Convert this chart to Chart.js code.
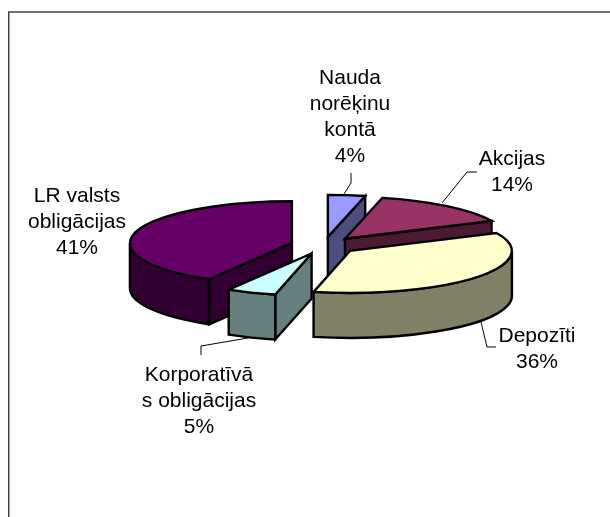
<!DOCTYPE html>
<html><head><meta charset="utf-8">
<style>html,body{margin:0;padding:0;background:#fff}canvas{display:block}</style>
<script src="https://cdn.jsdelivr.net/npm/chart.js@4"></script>
</head><body>
<canvas id="c" width="610" height="517"></canvas>
<script>
const categories = ['Nauda norēķinu kontā','Akcijas','Depozīti','Korporatīvā s obligācijas','LR valsts obligācijas'];
const shares = [3.7, 14.3, 35.6, 4.95, 41.45];
const topColors = ['#9999FF','#993366','#FFFFCC','#CCFFFF','#660066'];
const sideColors = ['#4D4D80','#4D1A33','#808066','#668080','#330033'];
const labelLines = [['Nauda','norēķinu','kontā'],['Akcijas'],['Depozīti'],['Korporatīvā','s obligācijas'],['LR valsts','obligācijas']];
const labelAnchors = [[350,78],[512,159],[537,336],[199,375],[77,196]];
const leaders = [
  [[351,173],[351,183],[344,194]],
  [[477,172],[467,172],[442,203]],
  [[481,322],[487,347],[496,347]],
  [[248,338],[201,346],[201,355]],
  []
];
const drawOrder = [0,1,4,3,2];
const tilt = 0.2593, depth = 45, explode = 0.2055, lineH = 26;

const pie3d = {
  id:'pie3d',
  beforeDraw(chart){
    const c = chart.ctx;
    c.save(); c.strokeStyle='#404040'; c.lineWidth=1.5;
    c.beginPath(); c.moveTo(8.75,517); c.lineTo(8.75,12); c.lineTo(610,12); c.stroke(); c.restore();
  },
  beforeDatasetsDraw(chart){
    const c = chart.ctx, arcs = chart.getDatasetMeta(0).data;
    const PI = Math.PI;
    c.save();
    c.lineJoin='miter'; c.miterLimit=4; c.strokeStyle='#000'; c.lineWidth=2.4;
    for (const i of drawOrder){
      const el = arcs[i], R = el.outerRadius, a0 = el.startAngle, a1 = el.endAngle, mid=(a0+a1)/2;
      const ax = el.x + Math.cos(mid)*R*explode, ay = el.y + Math.sin(mid)*R*explode*tilt;
      const P = (a,d=0)=>[ax+R*Math.cos(a), ay+R*tilt*Math.sin(a)+d];
      c.fillStyle = sideColors[i];
      const wall = a=>{
        const p=P(a);
        c.beginPath(); c.moveTo(ax,ay); c.lineTo(p[0],p[1]); c.lineTo(p[0],p[1]+depth); c.lineTo(ax,ay+depth); c.closePath();
        c.fill(); c.stroke();
      };
      if (Math.sin(a0-PI/2) > 0.02) wall(a0);
      if (Math.sin(a1+PI/2) > 0.02) wall(a1);
      const from = Math.max(a0,0), to = Math.min(a1,PI);
      if (to>from){
        c.beginPath();
        c.ellipse(ax,ay,R,R*tilt,0,from,to,false);
        c.ellipse(ax,ay+depth,R,R*tilt,0,to,from,true);
        c.closePath(); c.fill(); c.stroke();
      }
      c.save();
      c.translate(ax,ay); c.scale(1,tilt); c.translate(-el.x,-el.y);
      el.draw(c);
      c.restore();
      c.beginPath(); c.moveTo(ax,ay); c.ellipse(ax,ay,R,R*tilt,0,a0,a1,false); c.closePath(); c.stroke();
    }
    c.restore();
    c.save();
    c.strokeStyle='#000'; c.lineWidth=1;
    for (const l of leaders){
      if(!l.length) continue;
      c.beginPath(); l.forEach((p,k)=>k?c.lineTo(p[0],p[1]):c.moveTo(p[0],p[1])); c.stroke();
    }
    c.fillStyle='#000'; c.font='21px "Liberation Sans"'; c.textAlign='center'; c.textBaseline='middle';
    const total = shares.reduce((s,v)=>s+v,0);
    labelLines.forEach((lines,i)=>{
      const t = lines.concat([Math.round(shares[i]/total*100)+'%']);
      t.forEach((s,k)=>c.fillText(s,labelAnchors[i][0],labelAnchors[i][1]+k*lineH));
    });
    c.restore();
    return false;
  }
};

new Chart(document.getElementById('c'),{
  type:'pie',
  data:{labels:categories,datasets:[{data:shares,backgroundColor:topColors,borderWidth:0}]},
  options:{
    responsive:false,animation:false,devicePixelRatio:1,
    layout:{padding:{left:162,right:124,top:83.5,bottom:109.5}},
    plugins:{legend:{display:false},tooltip:{enabled:false}}
  },
  plugins:[pie3d]
});
</script>
</body></html>
